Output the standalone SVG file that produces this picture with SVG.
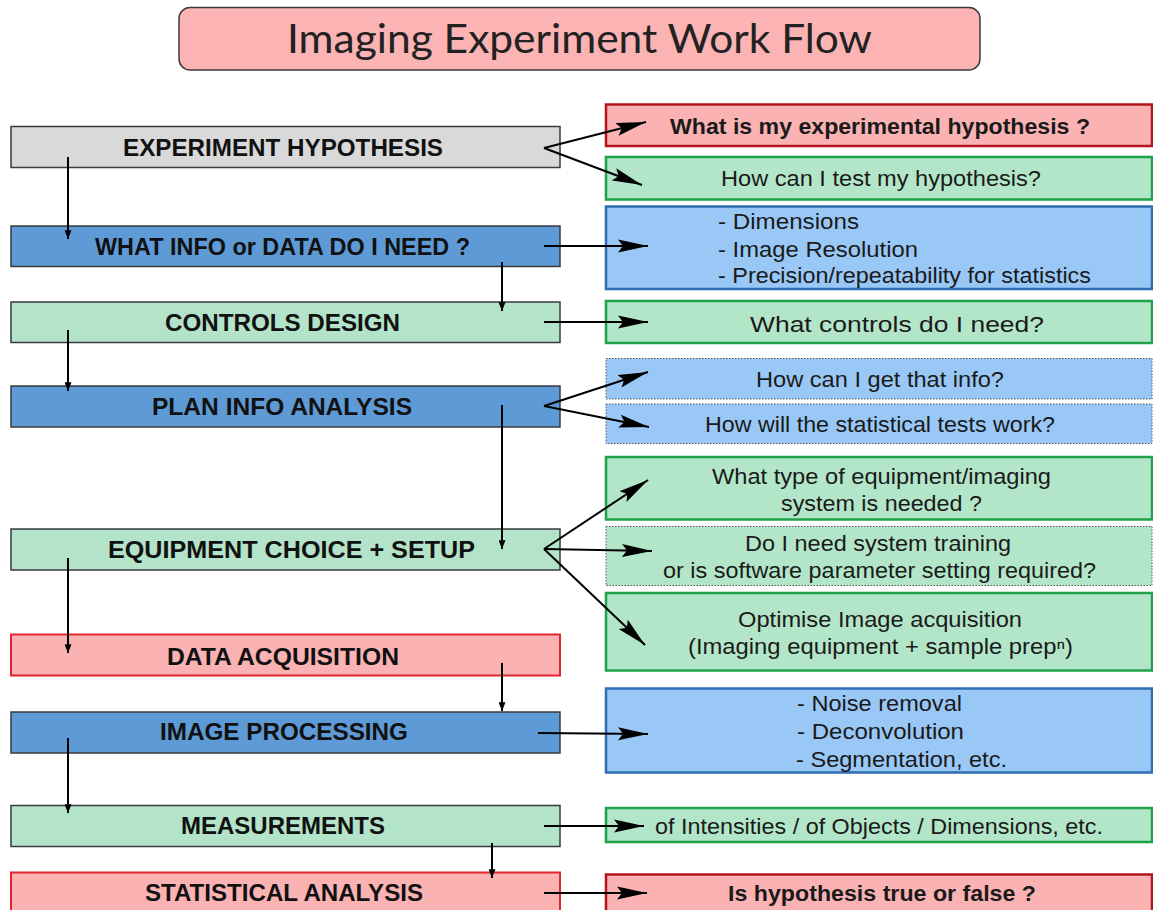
<svg xmlns="http://www.w3.org/2000/svg" width="1153" height="910" viewBox="0 0 1153 910">
<defs>
<marker id="big" viewBox="0 0 30 14" markerWidth="30" markerHeight="14" refX="30" refY="7" orient="auto" markerUnits="userSpaceOnUse"><path d="M0,0.5 L30,7 L0,13.5 L5,7 z" fill="#000"/></marker>
<marker id="small" viewBox="0 0 10 8" markerWidth="9" markerHeight="7" refX="10" refY="4" orient="auto" markerUnits="userSpaceOnUse"><path d="M0,0 L10,4 L0,8 z" fill="#000"/></marker>
<style>
.lbox{stroke:#3a3a3a;stroke-width:1.5}
.gray{fill:#d9d9d9}
.blue{fill:#5e9bd6}
.lgreen{fill:#b3e3c8}
.pink{fill:#fbb2b3;stroke:#e0272d;stroke-width:2}
.rgreen{fill:#b3e6c9;stroke:#1fa24a;stroke-width:2.5}
.rblue{fill:#99c8f6;stroke:#2f6db5;stroke-width:2.5}
.rred{fill:#fbb2b3;stroke:#b3141c;stroke-width:2.5}
.dblue{fill:#99c8f6;stroke:#555;stroke-width:1;stroke-dasharray:1.5 1.5}
.dgreen{fill:#b3e6c9;stroke:#555;stroke-width:1;stroke-dasharray:1.5 1.5}
.lt{font-family:"Liberation Sans",Arial,sans-serif;font-weight:bold;font-size:23px;fill:#111}
.rt{font-family:"Liberation Sans",Arial,sans-serif;font-size:22.5px;fill:#1a1a1a}
.rb{font-family:"Liberation Sans",Arial,sans-serif;font-size:22.5px;font-weight:bold;fill:#1a1a1a}
.c{stroke:#000;stroke-width:2;fill:none}
.h{marker-end:url(#big)}
.v{marker-end:url(#small)}
</style>
</defs>
<rect width="1153" height="910" fill="#fff"/>
<g id="title">
<rect x="179" y="7.5" width="801" height="62.5" rx="11" fill="#fbb3b3" stroke="#3a3a3a" stroke-width="1.5"/>
<text x="287" y="53" font-family="Lato,'Open Sans',sans-serif" font-size="40" fill="#222" textLength="585" lengthAdjust="spacingAndGlyphs">Imaging Experiment Work Flow</text>
</g>
<g id="n-hypothesis"><rect class="lbox gray" x="11" y="126.5" width="549" height="41"/><text class="lt" x="123" y="156" textLength="320" lengthAdjust="spacingAndGlyphs">EXPERIMENT  HYPOTHESIS</text></g>
<g id="n-whatinfo"><rect class="lbox blue" x="11" y="226" width="549" height="40.5"/><text class="lt" x="95" y="255" textLength="375" lengthAdjust="spacingAndGlyphs">WHAT INFO or DATA DO I NEED ?</text></g>
<g id="n-controls"><rect class="lbox lgreen" x="11" y="302" width="549" height="40.5"/><text class="lt" x="165" y="331" textLength="235" lengthAdjust="spacingAndGlyphs">CONTROLS  DESIGN</text></g>
<g id="n-plan"><rect class="lbox blue" x="11" y="386" width="549" height="41"/><text class="lt" x="152" y="415" textLength="260" lengthAdjust="spacingAndGlyphs">PLAN  INFO  ANALYSIS</text></g>
<g id="n-equipment"><rect class="lbox lgreen" x="11" y="529" width="549" height="41"/><text class="lt" x="108" y="558" textLength="367" lengthAdjust="spacingAndGlyphs">EQUIPMENT  CHOICE  +  SETUP</text></g>
<g id="n-acquisition"><rect class="pink" x="11" y="634.5" width="549" height="41"/><text class="lt" x="167" y="665" textLength="232" lengthAdjust="spacingAndGlyphs">DATA  ACQUISITION</text></g>
<g id="n-processing"><rect class="lbox blue" x="11" y="712" width="549" height="41"/><text class="lt" x="160" y="740" textLength="248" lengthAdjust="spacingAndGlyphs">IMAGE  PROCESSING</text></g>
<g id="n-measurements"><rect class="lbox lgreen" x="11" y="805.5" width="549" height="41"/><text class="lt" x="181" y="834" textLength="204" lengthAdjust="spacingAndGlyphs">MEASUREMENTS</text></g>
<g id="n-statistical"><rect class="pink" x="11" y="872.5" width="549" height="45"/><text class="lt" x="145" y="901" textLength="278" lengthAdjust="spacingAndGlyphs">STATISTICAL  ANALYSIS</text></g>

<g id="r-hypothesis"><rect class="rred" x="606" y="104.5" width="546" height="41.5"/><text class="rb" x="670" y="134" textLength="420" lengthAdjust="spacingAndGlyphs">What is my experimental hypothesis ?</text></g>
<g id="r-test"><rect class="rgreen" x="606" y="157" width="546" height="42.5"/><text class="rt" x="721" y="186" textLength="320" lengthAdjust="spacingAndGlyphs">How can I test my hypothesis?</text></g>
<g id="r-data"><rect class="rblue" x="606" y="206.5" width="546" height="82.5"/>
<text class="rt" x="718" y="229" textLength="141" lengthAdjust="spacingAndGlyphs">- Dimensions</text>
<text class="rt" x="718" y="257" textLength="200" lengthAdjust="spacingAndGlyphs">- Image Resolution</text>
<text class="rt" x="718" y="283" textLength="373" lengthAdjust="spacingAndGlyphs">- Precision/repeatability for statistics</text></g>
<g id="r-controls"><rect class="rgreen" x="606" y="301" width="546" height="42"/><text class="rt" x="750" y="332" textLength="294" lengthAdjust="spacingAndGlyphs">What controls do I need?</text></g>
<g id="r-getinfo"><rect class="dblue" x="606" y="358.5" width="546" height="40.5"/><text class="rt" x="756" y="387" textLength="248" lengthAdjust="spacingAndGlyphs">How can I get that info?</text></g>
<g id="r-stats"><rect class="dblue" x="606" y="404" width="546" height="39.5"/><text class="rt" x="705" y="432" textLength="350" lengthAdjust="spacingAndGlyphs">How will the statistical tests work?</text></g>
<g id="r-equiptype"><rect class="rgreen" x="606" y="457" width="546" height="62.5"/>
<text class="rt" x="712" y="484" textLength="339" lengthAdjust="spacingAndGlyphs">What type of equipment/imaging</text>
<text class="rt" x="781" y="511" textLength="201" lengthAdjust="spacingAndGlyphs">system is needed ?</text></g>
<g id="r-training"><rect class="dgreen" x="606" y="526.5" width="546" height="59"/>
<text class="rt" x="745" y="551" textLength="266" lengthAdjust="spacingAndGlyphs">Do I need system training</text>
<text class="rt" x="663" y="578" textLength="433" lengthAdjust="spacingAndGlyphs">or is software parameter setting required?</text></g>
<g id="r-optimise"><rect class="rgreen" x="606" y="593" width="546" height="77.5"/>
<text class="rt" x="738" y="627" textLength="284" lengthAdjust="spacingAndGlyphs">Optimise Image acquisition</text>
<text class="rt" x="688" y="654" textLength="385" lengthAdjust="spacingAndGlyphs">(Imaging equipment  + sample prepⁿ)</text></g>
<g id="r-processing"><rect class="rblue" x="606" y="688.5" width="546" height="84"/>
<text class="rt" x="797" y="711" textLength="165" lengthAdjust="spacingAndGlyphs">- Noise removal</text>
<text class="rt" x="797" y="739" textLength="167" lengthAdjust="spacingAndGlyphs">- Deconvolution</text>
<text class="rt" x="796" y="767" textLength="211" lengthAdjust="spacingAndGlyphs">- Segmentation, etc.</text></g>
<g id="r-measure"><rect class="rgreen" x="606" y="808" width="546" height="34"/><text class="rt" x="655" y="834" textLength="448" lengthAdjust="spacingAndGlyphs">of Intensities / of Objects / Dimensions, etc.</text></g>
<g id="r-result"><rect class="rred" x="606" y="874.5" width="546" height="45"/><text class="rb" x="728" y="901" textLength="308" lengthAdjust="spacingAndGlyphs">Is hypothesis true or false ?</text></g>

<g id="connectors">
<line class="c h" x1="544" y1="148" x2="646" y2="122"/>
<line class="c h" x1="544" y1="148" x2="642" y2="185"/>
<line class="c h" x1="544" y1="246" x2="648" y2="246"/>
<line class="c h" x1="544" y1="322" x2="648" y2="322"/>
<line class="c h" x1="544" y1="406" x2="648" y2="372"/>
<line class="c h" x1="544" y1="406" x2="649" y2="427"/>
<line class="c h" x1="544" y1="549" x2="648" y2="480"/>
<line class="c h" x1="544" y1="549" x2="652" y2="551"/>
<line class="c h" x1="544" y1="549" x2="645" y2="645"/>
<line class="c h" x1="538" y1="733" x2="648" y2="734"/>
<line class="c h" x1="544" y1="826" x2="644" y2="826"/>
<line class="c h" x1="544" y1="893" x2="647" y2="893"/>
<line class="c v" x1="68" y1="157" x2="68" y2="239"/>
<line class="c v" x1="502" y1="262" x2="502" y2="311"/>
<line class="c v" x1="68" y1="330" x2="68" y2="391"/>
<line class="c v" x1="502" y1="405" x2="502" y2="549"/>
<line class="c v" x1="68" y1="558" x2="68" y2="653"/>
<line class="c v" x1="502" y1="663" x2="502" y2="711"/>
<line class="c v" x1="68" y1="738" x2="68" y2="813"/>
<line class="c v" x1="492" y1="843" x2="492" y2="878"/>
</g>
</svg>
